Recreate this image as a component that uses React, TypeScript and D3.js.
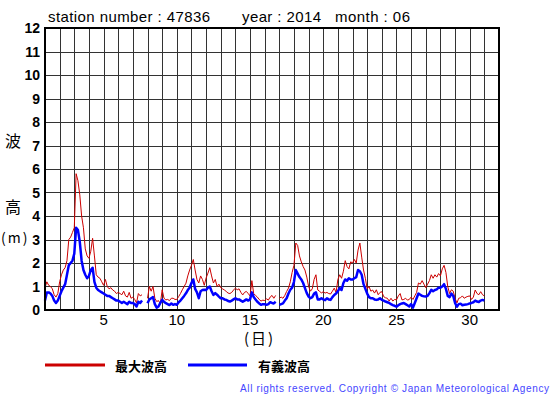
import * as d3 from 'd3';

// 3-hourly samples, 8 per day, from day 1 00:00 to day 31 00:00
const maxWave: (number | null)[] = [
  0.95, 1.2, 1.05, 1.0, 0.9, 0.65, 0.55, 0.7,
  1.2, 1.5, 1.7, 1.8, 2.1, 3.0, 3.1, 3.3,
  3.5, 5.8, 5.5, 4.9, 4.0, 3.5, 2.6, 2.3,
  2.2, 2.5, 3.05, 2.3, 1.5, 1.4, 1.35, 1.2,
  1.05, 1.3, 1.0, 0.9, 0.95, 0.85, 0.8, 0.7,
  0.75, 0.7, 0.65, 0.8, 0.6, 0.55, 0.75, 0.5,
  0.55, 0.45, 0.3, 0.7, 0.6, 0.65, null, null,
  0.5, 1.0, 0.8, 1.0, 0.5, 0.36, 0.4, 0.25,
  0.86, 0.5, 0.43, 0.45, 0.4, 0.5, 0.5, 0.45,
  0.45, 0.57, 0.7, 0.86, 1.0, 1.14, 1.45, 1.7,
  1.9, 2.15, 1.7, 1.3, 1.15, 1.45, 1.3, 1.05,
  1.36, 1.57, 1.8, 1.45, 1.15, 1.3, 1.0, 1.1,
  0.95, 0.9, 0.85, 0.79, 0.72, 0.7, 0.75, 0.85,
  0.93, 0.86, 0.9, 0.75, 0.64, 0.75, 0.79, 0.7,
  0.6, 1.25, 0.7, 0.62, 0.55, 0.45, 0.38, 0.42,
  0.4, 0.48, 0.42, 0.55, 0.62, 0.5, 0.62, null,
  0.5, 0.55, 0.5, 0.62, 0.79, 0.93, 1.2, 1.6,
  1.9, 2.85, 2.75, 2.3, 2.05, 1.85, 1.7, 1.4,
  1.0, 0.8, 0.9, 1.3, 1.5, 0.85, 0.8, 0.72,
  0.78, 0.72, 0.75, 0.7, 0.68, 0.8, 0.93, 0.75,
  1.3, 1.5, 1.35, 1.65, 2.1, 1.85, 1.75, 2.05,
  2.0, 2.15, 2.0, 2.55, 2.85, 2.25, 1.7, 1.35,
  0.9, 1.0, 0.8, 0.85, 0.72, 0.86, 0.65, 0.75,
  0.78, 0.57, 0.52, 0.5, 0.38, 0.5, 0.38, 0.45,
  0.43, 0.6, 0.7, 0.43, 0.45, 0.5, 0.42, 0.45,
  0.55, 0.45, 0.6, 0.75, 1.15, 1.1, 1.25, 1.1,
  0.95, 1.1, 1.25, 1.5, 1.35, 1.5, 1.4, 1.55,
  1.45, 1.75, 1.9, 1.6, 1.0, 0.7, 0.86, 0.8,
  0.5, 0.3, 0.5, 0.52, 0.6, 0.5, 0.55, 0.58,
  0.6, 0.45, 0.55, 0.85, 0.7, 0.65, 0.78, 0.65,
  0.6,
];

const sigWave: (number | null)[] = [
  0.4, 0.75, 0.75, 0.7, 0.6, 0.4, 0.3, 0.4,
  0.6, 0.8, 0.95, 1.1, 1.5, 1.9, 2.0, 2.1,
  2.4, 3.5, 3.4, 2.9, 2.1, 1.7, 1.5, 1.35,
  1.45, 1.7, 1.8, 1.2, 0.95, 0.85, 0.8, 0.75,
  0.7, 0.65, 0.6, 0.6, 0.55, 0.5, 0.45, 0.4,
  0.4, 0.35, 0.3, 0.35, 0.3, 0.25, 0.35, 0.3,
  0.3, 0.25, 0.15, 0.35, 0.3, 0.4, null, null,
  0.29, 0.45, 0.5, 0.55, 0.25, 0.1, 0.15, 0.3,
  0.43, 0.35, 0.29, 0.25, 0.21, 0.28, 0.22, 0.25,
  0.22, 0.33, 0.4, 0.5, 0.6, 0.71, 0.85, 0.95,
  1.15, 1.3, 0.9, 0.75, 0.5, 0.8, 0.85, 0.86,
  0.85, 0.95, 1.0, 0.8, 0.64, 0.72, 0.65, 0.57,
  0.5, 0.5, 0.45, 0.43, 0.38, 0.36, 0.4, 0.45,
  0.5, 0.45, 0.45, 0.4, 0.35, 0.4, 0.45, 0.4,
  0.45, 0.75, 0.55, 0.45, 0.35, 0.28, 0.22, 0.25,
  0.25, 0.22, 0.25, 0.33, 0.3, 0.28, 0.35, null,
  0.22, 0.25, 0.28, 0.4, 0.5, 0.7, 0.86, 0.95,
  1.2, 1.7, 1.55, 1.4, 1.3, 1.15, 0.93, 0.72,
  0.57, 0.5, 0.55, 0.7, 0.75, 0.45, 0.45, 0.5,
  0.45, 0.42, 0.5, 0.45, 0.43, 0.55, 0.64, 0.7,
  0.8, 0.93, 0.85, 1.15, 1.3, 1.25, 1.35, 1.3,
  1.3, 1.35, 1.4, 1.7, 1.65, 1.5, 1.1, 0.9,
  0.7, 0.55, 0.5, 0.5, 0.45, 0.43, 0.45, 0.5,
  0.43, 0.4, 0.36, 0.33, 0.3, 0.25, 0.21, 0.18,
  0.14, 0.2, 0.25, 0.28, 0.3, 0.25, 0.2, 0.15,
  0.25, 0.1, 0.3, 0.5, 0.7, 0.65, 0.6, 0.58,
  0.57, 0.6, 0.72, 0.86, 0.8, 0.85, 0.88, 0.95,
  0.95, 1.0, 1.1, 0.9, 0.6, 0.55, 0.7, 0.6,
  0.3, 0.14, 0.25, 0.27, 0.2, 0.22, 0.23, 0.25,
  0.28, 0.3, 0.33, 0.4, 0.36, 0.34, 0.4, 0.43,
  0.4,
];

const samplesPerDay = 8;
const dayTicks = [5, 10, 15, 20, 25, 30];
const yTicks = d3.range(0, 13);
const titleParts = ['station number : 47836', 'year : 2014', 'month : 06'];
const legendNames = ['最大波高', '有義波高'];
const colors = { max: '#cc0000', sig: '#0000ff' };

type Pt = { day: number; v: number | null };

export default function App() {
  const width = 555;
  const height = 395;
  const left = 45;
  const top = 28;
  const right = 499;
  const bottom = 310;

  const x = d3.scaleLinear().domain([1, 32]).range([left, right]);
  const y = d3.scaleLinear().domain([0, 12]).range([bottom, top]);

  const toPts = (arr: (number | null)[]): Pt[] =>
    arr.map((v, i) => ({ day: 1 + i / samplesPerDay, v }));

  const line = d3
    .line<Pt>()
    .defined((d) => d.v != null)
    .x((d) => x(d.day))
    .y((d) => y(d.v as number));

  const maxPath = line(toPts(maxWave)) ?? '';
  const sigPath = line(toPts(sigWave)) ?? '';

  const days = d3.range(2, 32);
  const font = '"Liberation Sans", Arial, sans-serif';
  const cjk = '"Noto Sans CJK JP", sans-serif';

  return (
    <>
      <style>{'body{margin:0}'}</style>
      <svg width={width} height={height} style={{ display: 'block', background: '#fff' }} fontFamily={font}>
        {/* title */}
        <text x={48} y={22} fontSize={15} textLength={162} lengthAdjust="spacing">{titleParts[0]}</text>
        <text x={242} y={22} fontSize={15} textLength={79} lengthAdjust="spacing">{titleParts[1]}</text>
        <text x={335} y={22} fontSize={15} textLength={75} lengthAdjust="spacing">{titleParts[2]}</text>

        {/* grid */}
        <g stroke="#333" strokeWidth={1} shapeRendering="crispEdges">
          {days.map((d) => (
            <line key={`v${d}`} x1={Math.round(x(d)) + 0.5} x2={Math.round(x(d)) + 0.5} y1={top} y2={bottom} />
          ))}
          {yTicks.slice(1, -1).map((t) => (
            <line key={`h${t}`} x1={left} x2={right} y1={Math.round(y(t)) + 0.5} y2={Math.round(y(t)) + 0.5} />
          ))}
        </g>

        {/* series */}
        <path d={maxPath} fill="none" stroke={colors.max} strokeWidth={1} strokeLinejoin="round" />
        <path d={sigPath} fill="none" stroke={colors.sig} strokeWidth={2.5} strokeLinejoin="round" />

        {/* frame */}
        <rect x={left} y={top} width={right - left} height={bottom - top} fill="none" stroke="#000" strokeWidth={2} />

        {/* y ticks */}
        {yTicks.map((t) => (
          <text key={`y${t}`} x={40} y={y(t)} dy="0.36em" textAnchor="end" fontSize={14} fontWeight="bold">
            {t}
          </text>
        ))}

        {/* x ticks */}
        {dayTicks.map((d) => (
          <text key={`x${d}`} x={x(d)} y={325} textAnchor="middle" fontSize={15}>
            {d}
          </text>
        ))}

        {/* axis labels */}
        <text x={13} y={147} textAnchor="middle" fontSize={16} fontFamily={cjk}>波</text>
        <text x={13} y={213} textAnchor="middle" fontSize={16} fontFamily={cjk}>高</text>
        <text x={1} y={243} fontSize={14} fontFamily={cjk} letterSpacing={2}>(m)</text>
        <text x={244} y={344} fontSize={15} fontFamily={cjk} letterSpacing={2}>(日)</text>

        {/* legend */}
        <line x1={45} x2={105} y1={365} y2={365} stroke={colors.max} strokeWidth={3} />
        <text x={115} y={371} fontSize={13} fontWeight="bold" fontFamily={cjk}>{legendNames[0]}</text>
        <line x1={188} x2={247} y1={365} y2={365} stroke={colors.sig} strokeWidth={3} />
        <text x={258} y={371} fontSize={13} fontWeight="bold" fontFamily={cjk}>{legendNames[1]}</text>

        {/* copyright */}
        <text x={240} y={392} fontSize={10} fill="#4646ff" textLength={309} lengthAdjust="spacing">
          All rights reserved. Copyright © Japan Meteorological Agency
        </text>
      </svg>
    </>
  );
}
